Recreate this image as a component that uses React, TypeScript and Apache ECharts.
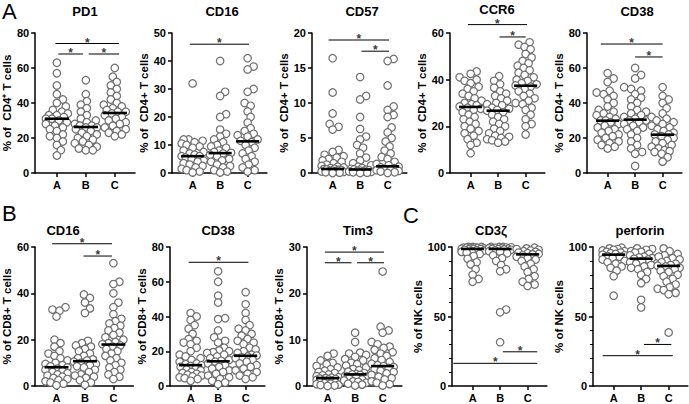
import React, { useEffect, useRef } from "react";
import * as echarts from "echarts";

const groups = ["A", "B", "C"];
const titles = ["PD1", "CD16", "CD57", "CCR6", "CD38", "CD16", "CD38", "Tim3", "CD3ζ", "perforin"];
const yNames = [
  "% of  CD4⁺ T cells", "% of  CD4+ T cells", "% of  CD4+ T cells", "% of  CD4+ T cells", "% of  CD4+ T cells",
  "% of CD8+ T cells", "% of CD8+ T cells", "% of CD8+ T cells", "% of NK cells", "% of NK cells",
];
const yMaxes = [80, 50, 20, 60, 80, 60, 80, 30, 100, 100];
const yIntervals = [20, 10, 5, 20, 20, 20, 20, 10, 50, 50];
const panelLetters = ["A", "B", "C"];

const pd1 = [
  [63, 57, 50, 45, 42, 40, 38, 36, 35, 34, 33, 33, 32, 31, 31, 30, 29, 28, 27, 26, 25, 24, 22, 21, 20, 18, 16, 13, 10],
  [53, 45, 41, 39, 37, 35, 33, 31, 30, 29, 28, 27, 27, 26, 26, 25, 24, 23, 22, 21, 20, 19, 18, 17, 16, 15, 14, 13, 13],
  [60, 55, 52, 50, 48, 46, 44, 42, 40, 39, 38, 37, 36, 35, 35, 34, 33, 32, 31, 30, 29, 28, 27, 26, 25, 24, 23, 22, 21],
];
const cd16cd4 = [
  [32, 12, 12, 11.5, 11, 10.5, 10, 9.5, 9, 8, 7.5, 7, 6.5, 6, 6, 5.5, 5, 4.5, 4, 3.5, 3, 2.5, 2, 1.5, 1, 0.5, 0.2],
  [40, 29, 27.5, 21, 20, 15.5, 14, 13, 12, 11, 10, 9.5, 9, 8, 7.5, 7.2, 7, 6.5, 6, 5, 4.5, 4, 3, 2.5, 2, 1, 0.5, 0.2],
  [41, 38, 37, 30, 29, 25, 24, 22, 20, 18, 16, 15, 14, 13.5, 13, 12, 11.5, 11, 10, 9, 8, 7, 6, 5, 4, 3, 2, 1, 0.5],
];
const cd57 = [
  [16.4, 11.5, 8.5, 7, 6.6, 6.2, 3.3, 3, 2.6, 2.4, 2.2, 2, 1.8, 1.6, 1.4, 1.2, 1, 0.9, 0.8, 0.7, 0.6, 0.55, 0.5, 0.45, 0.4, 0.35, 0.3, 0.25, 0.2, 0.15, 0.1, 0.05, 0],
  [13.7, 11, 10.5, 8, 6.3, 5.2, 4.8, 4, 3.6, 2.8, 2.2, 1.8, 1.4, 1.1, 0.9, 0.7, 0.6, 0.5, 0.45, 0.4, 0.35, 0.3, 0.25, 0.2, 0.15, 0.1, 0.05, 0],
  [16.3, 16, 12.5, 9.5, 9, 8.3, 8, 6.5, 5.8, 5, 4.5, 3.8, 3.2, 2.8, 2.3, 2, 1.6, 1.3, 1.1, 0.9, 0.8, 0.7, 0.6, 0.5, 0.4, 0.3, 0.2, 0.1, 0],
];
const ccr6 = [
  [43.5, 42.5, 41, 40, 39.5, 38.5, 37, 36, 35, 34, 33, 32, 31, 30, 29.5, 29, 28.5, 28, 27.5, 27, 26, 25, 24, 23, 22, 21, 20, 19, 18, 17, 16, 14.5, 13, 12, 8.5],
  [41.5, 39.5, 38, 36.5, 35, 34, 33, 32, 31, 30, 29.5, 29, 28, 27.5, 27, 26.7, 26, 25, 24, 23, 22, 21, 20, 19, 18, 17, 16, 15.5, 15, 14.5, 14, 13.5, 13],
  [56, 55, 54, 53, 51, 49.5, 48, 47, 46, 45, 44, 43, 42, 41, 40, 39.5, 38.5, 38, 37.5, 37, 36, 35, 34, 33, 32, 31, 30, 29.5, 28, 27, 25, 23, 21, 20, 16.5],
];
const cd38cd4 = [
  [57, 54, 52, 47, 46, 45, 44, 42, 40, 38, 36, 35, 34, 33, 32, 31, 30, 30, 29, 28, 27, 26, 25, 24, 23, 22, 21, 20, 19, 18, 17, 16, 15, 14],
  [60, 56, 54, 49, 48, 47, 45, 43, 42, 40, 38, 36, 35, 34, 33, 32, 31, 30, 30, 29, 28, 27, 26, 25, 24, 22, 20, 18, 16, 14, 12, 11, 4],
  [49, 44, 42, 40, 37, 34, 32, 31, 30, 29, 28, 27, 26, 25, 24, 23, 22, 22, 21, 20, 19, 18, 17, 16, 15, 14, 13, 12.5, 12, 11, 9, 6.5],
];
const cd16cd8 = [
  [34, 33, 32.5, 30, 20, 18.5, 17, 15, 14, 13, 12, 11, 10, 9.5, 9, 8.5, 8, 7.5, 7, 6.5, 6, 5.5, 5, 4.5, 4, 3.5, 3, 2.5, 2, 1.5, 1, 0.3],
  [39.5, 38, 36, 33.5, 31.5, 19.5, 18.5, 17.5, 17, 16, 15, 14, 13, 12, 11.5, 11, 10.5, 10, 9.5, 9, 8.5, 8, 7, 6, 5, 4.5, 4, 3.5, 2.5, 1.5, 0.5],
  [53, 45, 44, 40, 36, 34, 31, 29, 28, 27, 26, 25, 24, 23, 22, 21, 20, 19, 18.5, 18, 17.5, 17, 16, 15, 14, 13, 12, 11, 10, 9, 8, 7, 6, 5, 4, 3],
];
const cd38cd8 = [
  [42, 40, 38, 35, 33, 30, 27, 26, 25, 24, 22, 20, 18, 17, 16, 15, 14, 13, 12.5, 12, 11.5, 11, 10, 9.5, 9, 8, 7.5, 7, 6.5, 6, 5.5, 5, 4.5, 4, 3],
  [66, 60, 52, 48, 39, 38.5, 32, 28, 26, 25, 22, 20.5, 20, 19.5, 19, 18, 17, 16, 15, 14.5, 14, 13, 12, 11, 10, 9, 8, 7, 6, 5, 4, 3, 2, 1],
  [54, 47, 42, 38, 35, 33, 32, 30, 29, 27, 26, 25, 24, 22, 21, 20, 19, 18, 17.5, 17, 16.5, 16, 15, 14, 13, 12, 11, 10, 9, 8, 7, 6, 5, 4],
];
const tim3 = [
  [7, 6.5, 5.5, 5, 4.7, 4.3, 4, 3.6, 3.3, 3, 2.8, 2.5, 2.3, 2.1, 1.9, 1.8, 1.7, 1.6, 1.5, 1.4, 1.3, 1.2, 1.1, 1, 0.9, 0.8, 0.7, 0.6, 0.5, 0.4, 0.3, 0.2, 0.1, 0],
  [11.5, 9.5, 7.2, 7, 6.7, 6.3, 5.8, 5.5, 5, 4.7, 4.4, 4, 3.7, 3.4, 3.1, 2.8, 2.6, 2.5, 2.4, 2.2, 2, 1.8, 1.6, 1.4, 1.2, 1, 0.9, 0.7, 0.5, 0.3, 0.1],
  [24.7, 12.8, 12, 11.5, 9.5, 9, 8.5, 8.2, 7.8, 7.3, 7, 6.5, 6, 5.6, 5.2, 4.8, 4.5, 4.3, 4.1, 3.9, 3.6, 3.3, 3, 2.7, 2.4, 2, 1.7, 1.4, 1, 0.7, 0.4, 0.1],
];
const cd3z = [
  [100, 100, 100, 99.8, 99.6, 99.5, 99.3, 99, 99, 98.8, 98.6, 98.5, 98.3, 98, 97.7, 97.3, 97, 96.5, 96, 95, 93.5, 91.5, 89, 87.5, 84, 80, 77, 75],
  [100, 100, 100, 99.8, 99.6, 99.4, 99.2, 99, 98.8, 98.6, 98.4, 98.2, 98, 97.5, 97, 96.5, 95.5, 94, 92, 90, 87, 84, 82.5, 55, 53, 31.5],
  [99.5, 99, 98.5, 98, 97.5, 97, 96.5, 96, 95.5, 95, 94.7, 94, 93, 92, 91, 90, 88, 86, 84, 82, 79, 77, 75, 73, 72],
];
const perforin = [
  [99.5, 99, 98.5, 98, 97.5, 97, 96.5, 96, 95.5, 95, 94.5, 94, 93.5, 93, 92, 91, 90, 89, 88, 86, 85, 83, 79, 65],
  [99, 98.5, 98, 97, 96.5, 96, 95, 94, 93, 92.5, 92, 91.5, 91, 90, 89, 88, 87, 86, 85, 84, 82, 80, 77, 74, 62, 56.5],
  [99, 97, 95, 94, 93, 92, 91, 90, 89, 88, 87, 86.5, 86, 85, 84, 83, 82, 80, 79, 77, 75, 73, 71, 70, 69, 67, 66, 38.5],
];
const panelData = [pd1, cd16cd4, cd57, ccr6, cd38cd4, cd16cd8, cd38cd8, tim3, cd3z, perforin];

const medians = [
  [31, 26.3, 34.3], [6, 7.1, 11.3], [0.57, 0.5, 0.95], [28.3, 26.7, 37.4], [29.9, 30.5, 21.9],
  [8.1, 10.7, 17.9], [12, 14.2, 17.4], [1.7, 2.5, 4.3], [98.6, 98.6, 94.7], [94.5, 91.6, 86.4],
];

// [x from, x to, y level] in axis units
const brackets = [
  [[0.95, 3.15, 74], [1.05, 1.9, 68], [2.1, 3.15, 68]],
  [[0.9, 3.05, 46]],
  [[0.85, 3.05, 19], [2.05, 3.05, 17.4]],
  [[0.9, 3.05, 63.6], [2.05, 3.0, 58.3]],
  [[0.75, 3.0, 73.7], [2.0, 3.0, 66.3]],
  [[0.85, 2.95, 61.4], [1.95, 2.95, 56.1]],
  [[0.93, 3.1, 71.2]],
  [[0.9, 3.05, 28.9], [0.9, 1.87, 26.6], [2.07, 3.05, 26.6]],
  [[0.3, 3.35, 16.3], [2.1, 3.35, 24.6]],
  [[0.6, 3.15, 21.8], [2.1, 3.1, 29.9]],
];

// layout
const gridLefts = [35, 172, 312, 450, 587, 35, 170, 307, 452, 593];
const xPpu = [29, 27.5, 27.5, 27.5, 27.5, 28.5, 27.5, 27.5, 27.5, 27.5];
const rowTop = [33, 247];
const rowHeight = [140, 139];
const nameGaps = [17, 18, 21, 21, 21, 17, 20, 19, 27, 25];
const titleX = [85, 222, 362, 497, 637, 63, 218, 358, 491, 640];
const titleY = [5, 5, 5, 3, 5, 224, 224, 224, 224, 224];
const letterPos = [[2, 0], [2, 202], [403, 204]];
const X_MIN = 0.25;
const X_MAX = 3.7;
const FONT = '"Liberation Sans", Arial, sans-serif';

function swarm(values: number[], yScale: number, xScale: number, D: number, maxOff: number) {
  const idx = values.map((_, i) => i).sort((a, b) => values[a] - values[b]);
  const placed: { x: number; y: number }[] = [];
  const out: number[] = new Array(values.length).fill(0);
  for (const i of idx) {
    const py = values[i] * yScale;
    let best = 0;
    let bestScore = -Infinity;
    for (let k = 0; k <= 2 * maxOff; k++) {
      const off = k === 0 ? 0 : (k % 2 === 1 ? 1 : -1) * Math.ceil(k / 2);
      let minD = Infinity;
      for (const p of placed) {
        const d = Math.hypot(p.x - off, p.y - py);
        if (d < minD) minD = d;
      }
      if (minD >= D) {
        best = off;
        break;
      }
      if (minD > bestScore) {
        bestScore = minD;
        best = off;
      }
    }
    placed.push({ x: best, y: py });
    out[i] = best / xScale;
  }
  return out;
}

export default function App() {
  const ref = useRef<HTMLDivElement>(null);
  useEffect(() => {
    if (!ref.current) return;
    const chart = echarts.init(ref.current, null, { renderer: "svg" });
    const grid: any[] = [];
    const xAxis: any[] = [];
    const yAxis: any[] = [];
    const series: any[] = [];
    const graphic: any[] = [];

    for (let p = 0; p < 10; p++) {
      const row = p < 5 ? 0 : 1;
      const width = (X_MAX - X_MIN) * xPpu[p];
      grid.push({ left: gridLefts[p], top: rowTop[row], width, height: rowHeight[row] });
      const isNK = p >= 8;
      xAxis.push({
        gridIndex: p,
        type: "value",
        min: X_MIN,
        max: X_MAX,
        axisLine: { show: true, lineStyle: { color: "#000", width: 1.5 } },
        axisTick: { show: true, length: 4, lineStyle: { color: "#000", width: 1.5 }, customValues: [1, 2, 3] },
        axisLabel: {
          show: true,
          customValues: [1, 2, 3],
          formatter: (v: number) => groups[Math.round(v) - 1] ?? "",
          fontFamily: FONT,
          fontWeight: "bold",
          fontSize: 11,
          color: "#000",
          margin: 6,
        },
        splitLine: { show: false },
      });
      yAxis.push({
        gridIndex: p,
        type: "value",
        min: 0,
        max: yMaxes[p],
        interval: yIntervals[p],
        name: yNames[p],
        nameLocation: "middle",
        nameGap: nameGaps[p],
        nameTextStyle: { fontFamily: FONT, fontWeight: "bold", fontSize: 11.5, color: "#000" },
        axisLine: { show: true, lineStyle: { color: "#000", width: 1.5 } },
        axisTick: { show: true, length: 4, lineStyle: { color: "#000", width: 1.5 } },
        minorTick: { show: isNK, splitNumber: 5, length: 3, lineStyle: { color: "#000", width: 1 } },
        axisLabel: { fontFamily: FONT, fontWeight: "bold", fontSize: 11, color: "#000", margin: 6 },
        splitLine: { show: false },
      });

      const yScale = rowHeight[row] / yMaxes[p];
      const pts: number[][] = [];
      panelData[p].forEach((vals, g) => {
        const offs = swarm(vals, yScale, xPpu[p], 6.3, 11);
        vals.forEach((v, j) => pts.push([g + 1 + offs[j], v]));
      });
      series.push({
        type: "scatter",
        xAxisIndex: p,
        yAxisIndex: p,
        data: pts,
        symbol: "circle",
        symbolSize: 7.5,
        itemStyle: { color: "#fff", borderColor: "#6e6e6e", borderWidth: 1.2, opacity: 1 },
        z: 2,
        silent: true,
      });
      medians[p].forEach((m, g) => {
        series.push({
          type: "line",
          xAxisIndex: p,
          yAxisIndex: p,
          data: [[g + 1 - 0.42, m], [g + 1 + 0.42, m]],
          symbol: "none",
          lineStyle: { color: "#000", width: 2.6 },
          z: 4,
          silent: true,
          clip: false,
        });
      });
      const stars: number[][] = [];
      brackets[p].forEach((b) => {
        series.push({
          type: "line",
          xAxisIndex: p,
          yAxisIndex: p,
          data: [[b[0], b[2]], [b[1], b[2]]],
          symbol: "none",
          lineStyle: { color: "#000", width: 1 },
          z: 4,
          silent: true,
          clip: false,
        });
        stars.push([(b[0] + b[1]) / 2, b[2]]);
      });
      series.push({
        type: "scatter",
        xAxisIndex: p,
        yAxisIndex: p,
        data: stars,
        symbolSize: 0,
        clip: false,
        silent: true,
        z: 5,
        label: {
          show: true,
          formatter: "*",
          position: "inside",
          offset: [0, -1],
          fontFamily: FONT,
          fontWeight: "bold",
          fontSize: 12,
          color: "#000",
        },
      });

      graphic.push({
        type: "text",
        x: titleX[p],
        y: titleY[p],
        style: {
          text: titles[p],
          fontFamily: FONT,
          fontWeight: "bold",
          fontSize: 13,
          fill: "#000",
          align: "center",
          verticalAlign: "top",
        },
      });
    }
    panelLetters.forEach((l, i) => {
      graphic.push({
        type: "text",
        x: letterPos[i][0],
        y: letterPos[i][1],
        style: { text: l, fontFamily: FONT, fontSize: 22, fill: "#000", align: "left", verticalAlign: "top" },
      });
    });

    chart.setOption({
      animation: false,
      backgroundColor: "#fff",
      grid,
      xAxis,
      yAxis,
      series,
      graphic,
    });
    return () => chart.dispose();
  }, []);
  return <div ref={ref} style={{ position: "fixed", left: 0, top: 0, width: 689, height: 404 }} />;
}
